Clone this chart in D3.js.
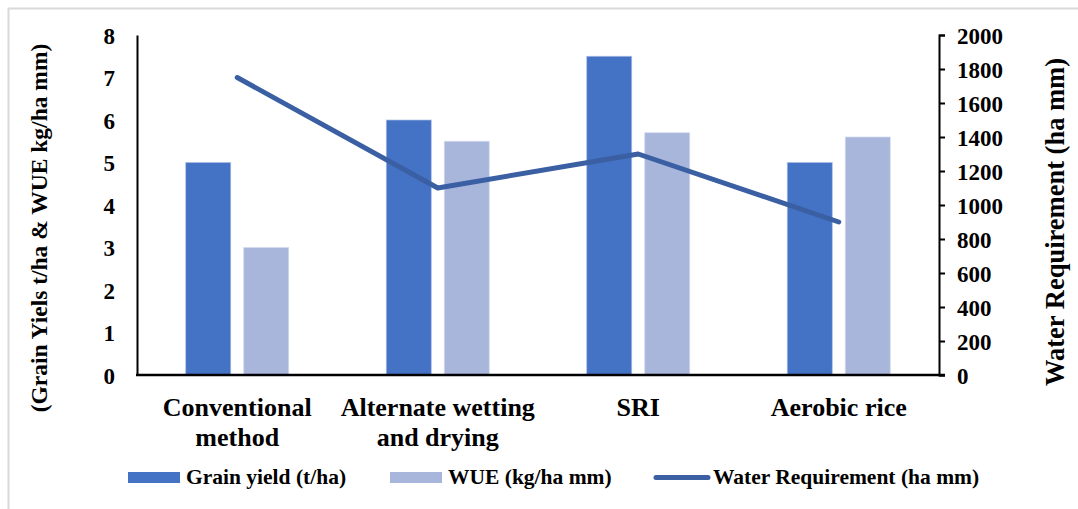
<!DOCTYPE html>
<html>
<head>
<meta charset="utf-8">
<script src="https://cdn.jsdelivr.net/npm/d3@7.9.0/dist/d3.min.js"></script>
<style>
  body { margin: 0; background: #fff; }
</style>
</head>
<body>
<svg width="1078" height="509"></svg>
<script>
// chart data
const categories = ['Conventional method', 'Alternate wetting and drying', 'SRI', 'Aerobic rice'];
const categoryLines = [['Conventional', 'method'], ['Alternate wetting', 'and drying'], ['SRI'], ['Aerobic rice']];
const grainYield = [5, 6, 7.5, 5];
const wue = [3, 5.5, 5.7, 5.6];
const waterReq = [1750, 1100, 1300, 900];
const leftTicks = [0, 1, 2, 3, 4, 5, 6, 7, 8];
const rightTicks = [0, 200, 400, 600, 800, 1000, 1200, 1400, 1600, 1800, 2000];

const serif = 'Liberation Serif';
const svg = d3.select('svg');

// outer frame
svg.append('rect')
  .attr('x', 8.5).attr('y', 8.5)
  .attr('width', 1090).attr('height', 520)
  .attr('fill', 'none')
  .attr('stroke', '#d9d9d9')
  .attr('stroke-width', 2);

const plotLeft = 137, plotRight = 939, plotTop = 35, plotBottom = 375;

let x = d3.scaleBand().domain(categories).range([plotLeft, plotRight]);
let y = d3.scaleLinear().domain([0, 8]).range([plotBottom, plotTop]);
let y2 = d3.scaleLinear().domain([0, 2000]).range([plotBottom, plotTop]);

const blue = '#4472C4', lightBlue = '#A9B6DB', lineBlue = '#3A5FA3';
const barW = 45;

// helper so every text gets the same serif bold face
function serifText(sel, size) {
  return sel.attr('font-family', serif).attr('font-weight', 'bold')
    .attr('font-size', size).attr('fill', '#000');
}

// bars
categories.forEach((c, i) => {
  let cx = x(c) + x.bandwidth() / 2;
  svg.append('rect')
    .attr('x', cx - 29 - barW / 2).attr('y', y(grainYield[i]))
    .attr('width', barW).attr('height', y(0) - y(grainYield[i]))
    .attr('fill', blue).attr('stroke', '#a9bde6').attr('stroke-width', 0.7);
  svg.append('rect')
    .attr('x', cx + 29 - barW / 2).attr('y', y(wue[i]))
    .attr('width', barW).attr('height', y(0) - y(wue[i]))
    .attr('fill', lightBlue).attr('stroke', '#d3daf0').attr('stroke-width', 0.7);
});

// line
let line = d3.line()
  .x((d, i) => x(categories[i]) + x.bandwidth() / 2)
  .y(d => y2(d));
svg.append('path')
  .attr('d', line(waterReq))
  .attr('fill', 'none')
  .attr('stroke', lineBlue)
  .attr('stroke-width', 5)
  .attr('stroke-linecap', 'round')
  .attr('stroke-linejoin', 'round');

// left axis
let leftAxis = svg.append('g')
  .attr('transform', `translate(${plotLeft},0)`)
  .call(d3.axisLeft(y).tickValues(leftTicks).tickSize(0).tickPadding(22));
leftAxis.select('.domain').attr('stroke', '#000').attr('stroke-width', 2);
serifText(leftAxis.selectAll('text'), 23).attr('dy', '0.35em');

// right axis
let rightAxis = svg.append('g')
  .attr('transform', `translate(${plotRight},0)`)
  .call(d3.axisRight(y2).tickValues(rightTicks).tickFormat(d3.format('d'))
    .tickSize(6).tickSizeOuter(6).tickPadding(12));
rightAxis.select('.domain').attr('stroke', '#000').attr('stroke-width', 2);
rightAxis.selectAll('line').attr('stroke', '#000').attr('stroke-width', 2);
serifText(rightAxis.selectAll('text'), 23).attr('dy', '0.35em');

// x baseline
svg.append('line')
  .attr('x1', plotLeft - 1).attr('x2', plotRight + 6)
  .attr('y1', plotBottom).attr('y2', plotBottom)
  .attr('stroke', '#000').attr('stroke-width', 2.5);

// category labels
categories.forEach((c, i) => {
  let t = serifText(svg.append('text'), 26)
    .attr('x', x(c) + x.bandwidth() / 2)
    .attr('y', 416)
    .attr('text-anchor', 'middle');
  categoryLines[i].forEach((s, j) => {
    t.append('tspan').attr('x', x(c) + x.bandwidth() / 2).attr('dy', j === 0 ? 0 : 30).text(s);
  });
});

// axis titles
serifText(svg.append('text'), 23.5)
  .attr('transform', 'translate(47,228) rotate(-90)')
  .attr('text-anchor', 'middle')
  .text('(Grain Yiels t/ha & WUE kg/ha mm)');
serifText(svg.append('text'), 26.5)
  .attr('transform', 'translate(1064,222) rotate(-90)')
  .attr('text-anchor', 'middle')
  .text('Water Requirement (ha mm)');

// legend
let legend = svg.append('g');
legend.append('rect').attr('x', 128).attr('y', 472).attr('width', 52).attr('height', 11).attr('fill', blue);
serifText(legend.append('text'), 21.5).attr('x', 186).attr('y', 484).text('Grain yield (t/ha)');
legend.append('rect').attr('x', 390).attr('y', 472).attr('width', 52).attr('height', 11).attr('fill', lightBlue);
serifText(legend.append('text'), 21.5).attr('x', 448).attr('y', 484).text('WUE (kg/ha mm)');
legend.append('line').attr('x1', 656).attr('x2', 708).attr('y1', 477.5).attr('y2', 477.5)
  .attr('stroke', lineBlue).attr('stroke-width', 5).attr('stroke-linecap', 'round');
serifText(legend.append('text'), 21.5).attr('x', 713).attr('y', 484).text('Water Requirement (ha mm)');
</script>
</body>
</html>
